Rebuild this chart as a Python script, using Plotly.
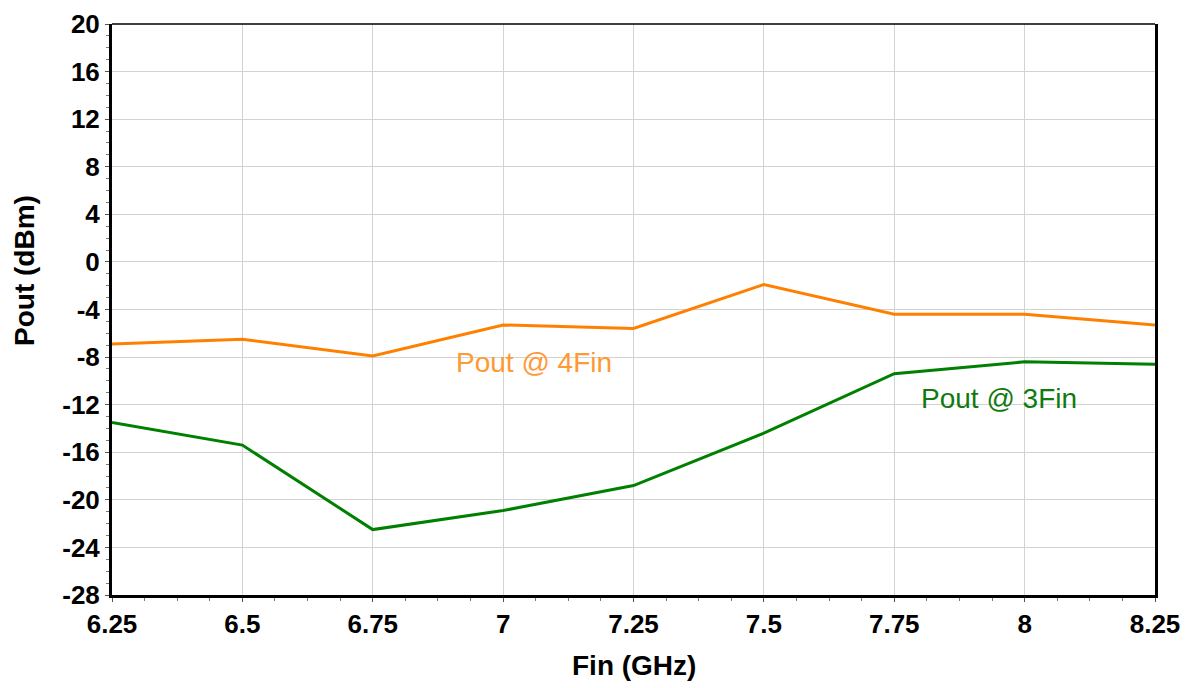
import plotly.graph_objects as go

freq = [6.25, 6.5, 6.75, 7.0, 7.25, 7.5, 7.75, 8.0, 8.25]
pout_4fin = [-6.9, -6.5, -7.9, -5.3, -5.6, -1.9, -4.4, -4.4, -5.3]
pout_3fin = [-13.5, -15.4, -22.5, -20.9, -18.8, -14.4, -9.4, -8.4, -8.6]
x_ticks = [6.25, 6.5, 6.75, 7.0, 7.25, 7.5, 7.75, 8.0, 8.25]
x_ticklabels = ["6.25", "6.5", "6.75", "7", "7.25", "7.5", "7.75", "8", "8.25"]
y_ticks = list(range(-28, 21, 4))
y_ticklabels = [str(v) for v in y_ticks]

FONT = "Liberation Sans, Arial"

fig = go.Figure()
fig.add_trace(go.Scatter(x=freq, y=pout_4fin, mode="lines", name="Pout @ 4Fin",
                         line=dict(color="#FF8000", width=3)))
fig.add_trace(go.Scatter(x=freq, y=pout_3fin, mode="lines", name="Pout @ 3Fin",
                         line=dict(color="#008000", width=3)))

fig.add_annotation(x=7.059, y=-8.45, text="Pout @ 4Fin", showarrow=False,
                   font=dict(family=FONT, size=28, color="#FF9933"))
fig.add_annotation(x=7.951, y=-11.5, text="Pout @ 3Fin", showarrow=False,
                   font=dict(family=FONT, size=28, color="#107A10"))

# axis titles
fig.add_annotation(xref="paper", yref="paper", x=0.5, y=-0.124, yanchor="middle",
                   text="<b>Fin (GHz)</b>", showarrow=False,
                   font=dict(family=FONT, size=28, color="black"))
fig.add_annotation(xref="paper", yref="paper", x=-0.0845, y=0.569, xanchor="center",
                   yanchor="middle",
                   text="<b>Pout (dBm)</b>", textangle=-90, showarrow=False,
                   font=dict(family=FONT, size=28, color="black"))

fig.add_shape(type="line", xref="paper", yref="paper", x0=0, x1=1, y0=1, y1=1,
              line=dict(color="black", width=1.5))

fig.update_layout(
    width=1183, height=680,
    margin=dict(l=104, r=36, t=16, b=93),
    plot_bgcolor="white", paper_bgcolor="white",
    showlegend=False,
    font=dict(family=FONT, color="black"),
)
fig.update_xaxes(
    automargin=False,
    range=[6.25, 8.25], tickvals=x_ticks, ticktext=x_ticklabels,
    tickfont=dict(size=26, family=FONT, weight="bold"), ticklabeloverflow="allow",
    showgrid=True, gridcolor="#D3D3D3", gridwidth=1,
    showline=True, linecolor="black", linewidth=3, mirror=False,
    ticks="outside", ticklen=4, tickcolor="#555", zeroline=False,
    minor=dict(dtick=0.0625, tick0=6.25, ticks="outside", ticklen=3, tickcolor="#777", showgrid=False),
)
fig.update_yaxes(
    automargin=False,
    range=[-28, 20], tickvals=y_ticks, ticktext=y_ticklabels,
    tickfont=dict(size=26, family=FONT, weight="bold"), ticklabeloverflow="allow",
    showgrid=True, gridcolor="#D3D3D3", gridwidth=1,
    showline=True, linecolor="black", linewidth=3, mirror=True,
    ticks="outside", ticklen=4, tickcolor="#555", zeroline=False,
    minor=dict(dtick=1, tick0=0, ticks="outside", ticklen=3, tickcolor="#777", showgrid=False),
)

fig.write_html("out.html")
